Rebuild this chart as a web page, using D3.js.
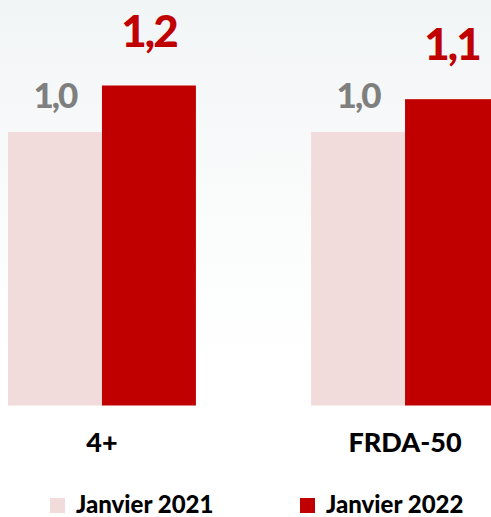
<!DOCTYPE html>
<html>
<head>
<meta charset="utf-8">
<script src="https://cdn.jsdelivr.net/npm/d3@7"></script>
<style>
  body { margin: 0; }
  svg { display: block; font-family: Lato, "Open Sans", sans-serif; }
</style>
</head>
<body>
<svg width="491" height="517"></svg>
<script>
// data
var categories = ["4+", "FRDA-50"];
var series = ["Janvier 2021", "Janvier 2022"];
var values2021 = [1.0, 1.0];
var values2022 = [1.17, 1.12];

var colors = ["#f2dcdb", "#c00000"];
var labelColors = ["#7f7f7f", "#c00000"];

var width = 491, height = 517;
var svg = d3.select("svg");

// background
var defs = svg.append("defs");
var grad = defs.append("linearGradient")
    .attr("id", "bg")
    .attr("x1", 0).attr("y1", 0).attr("x2", 0).attr("y2", 1);
grad.append("stop").attr("offset", "0%").attr("stop-color", "#f2f5f6");
grad.append("stop").attr("offset", "45%").attr("stop-color", "#fbfcfc");
grad.append("stop").attr("offset", "70%").attr("stop-color", "#ffffff");
grad.append("stop").attr("offset", "100%").attr("stop-color", "#ffffff");
svg.append("rect")
    .attr("width", width).attr("height", height)
    .attr("fill", "url(#bg)");

var x0 = d3.scaleBand()
    .domain(categories)
    .range([8, 499])
    .paddingInner(0.38)
    .paddingOuter(0);

var x1 = d3.scaleBand()
    .domain(series)
    .range([0, x0.bandwidth()]);

var y = d3.scaleLinear()
    .domain([0, 1])
    .range([405.5, 132]);

var fmt = function(v) { return d3.format(".1f")(v).replace(".", ","); };

var data = categories.map(function(c, i) {
  return { cat: c, vals: [values2021[i], values2022[i]] };
});

var groups = svg.selectAll("g.grp")
    .data(data)
    .enter().append("g")
    .attr("class", "grp")
    .attr("transform", function(d) { return "translate(" + x0(d.cat) + ",0)"; });

groups.selectAll("rect")
    .data(function(d) { return d.vals.map(function(v, j) { return { s: series[j], v: v, j: j }; }); })
    .enter().append("rect")
    .attr("x", function(d) { return x1(d.s); })
    .attr("y", function(d) { return y(d.v); })
    .attr("width", x1.bandwidth())
    .attr("height", function(d) { return y(0) - y(d.v); })
    .attr("fill", function(d) { return colors[d.j]; });

groups.selectAll("text.val")
    .data(function(d) { return d.vals.map(function(v, j) { return { s: series[j], v: v, j: j }; }); })
    .enter().append("text")
    .attr("class", "val")
    .attr("x", function(d) { return x1(d.s) + x1.bandwidth() / 2; })
    .attr("y", function(d) { return y(d.v) - (d.j ? 39 : 24); })
    .attr("text-anchor", "middle")
    .attr("font-weight", 900)
    .attr("font-size", function(d) { return d.j ? 44 : 35; })
    .attr("letter-spacing", -2)
    .attr("fill", function(d) { return labelColors[d.j]; })
    .text(function(d) { return fmt(d.v); });

// category labels
groups.append("text")
    .attr("x", x0.bandwidth() / 2)
    .attr("y", 452)
    .attr("text-anchor", "middle")
    .attr("font-weight", 900)
    .attr("font-size", 27)
    .attr("fill", "#000")
    .text(function(d) { return d.cat; });

// legend
var legendX = [50, 300];
var legend = svg.selectAll("g.leg")
    .data(series)
    .enter().append("g")
    .attr("class", "leg")
    .attr("transform", function(d, i) { return "translate(" + legendX[i] + ",0)"; });

legend.append("rect")
    .attr("x", 0).attr("y", 498)
    .attr("width", 15).attr("height", 15)
    .attr("fill", function(d, i) { return colors[i]; });

legend.append("text")
    .attr("x", 26)
    .attr("y", 513)
    .attr("font-weight", 900)
    .attr("font-size", 24)
    .attr("fill", "#000")
    .text(function(d) { return d; });
</script>
</body>
</html>
